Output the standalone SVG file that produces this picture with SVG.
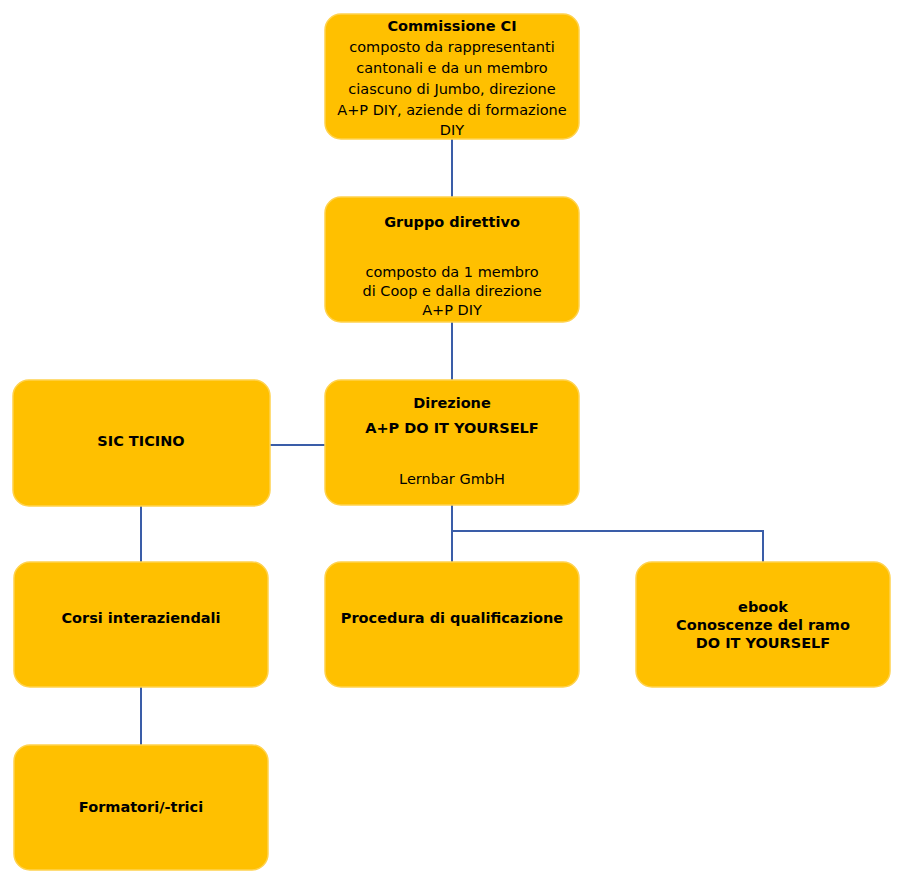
<svg xmlns="http://www.w3.org/2000/svg" width="904" height="884" viewBox="0 0 904 884">
<style>
.b{fill:#FFC000;stroke:#FFD24D;stroke-width:1.5}
text{font-family:"DejaVu Sans","Liberation Sans",sans-serif;font-size:14.5px;fill:#000;text-anchor:middle}
.t{font-weight:bold}
.c line,.c polyline{stroke:#3A5DA8;stroke-width:2;fill:none}
</style>
<rect width="904" height="884" fill="#fff"/>
<g class="c" id="connectors">
<line x1="452" y1="139" x2="452" y2="197"/>
<line x1="452" y1="322" x2="452" y2="380"/>
<line x1="270" y1="445" x2="325" y2="445"/>
<line x1="141" y1="506" x2="141" y2="562"/>
<line x1="141" y1="687" x2="141" y2="745"/>
<line x1="452" y1="505" x2="452" y2="562"/>
<polyline points="452,531 763,531 763,562"/>
</g>
<g id="commissione"><rect class="b" x="325" y="14" width="254" height="125" rx="16"/>
<text x="452" y="31" class="t">Commissione CI</text>
<text x="452" y="52">composto da rappresentanti</text>
<text x="452" y="73">cantonali e da un membro</text>
<text x="452" y="94">ciascuno di Jumbo, direzione</text>
<text x="452" y="115">A+P DIY, aziende di formazione</text>
<text x="452" y="135">DIY</text></g>
<g id="gruppo"><rect class="b" x="325" y="197" width="254" height="125" rx="16"/>
<text x="452" y="227" class="t">Gruppo direttivo</text>
<text x="452" y="277">composto da 1 membro</text>
<text x="452" y="296">di Coop e dalla direzione</text>
<text x="452" y="315">A+P DIY</text></g>
<g id="direzione"><rect class="b" x="325" y="380" width="254" height="125" rx="16"/>
<text x="452" y="408" class="t">Direzione</text>
<text x="452" y="433" class="t">A+P DO IT YOURSELF</text>
<text x="452" y="484">Lernbar GmbH</text></g>
<g id="sic"><rect class="b" x="13" y="380" width="257" height="126" rx="16"/>
<text x="141" y="446" class="t">SIC TICINO</text></g>
<g id="corsi"><rect class="b" x="14" y="562" width="254" height="125" rx="16"/>
<text x="141" y="623" class="t">Corsi interaziendali</text></g>
<g id="procedura"><rect class="b" x="325" y="562" width="254" height="125" rx="16"/>
<text x="452" y="623" class="t">Procedura di qualificazione</text></g>
<g id="ebook"><rect class="b" x="636" y="562" width="254" height="125" rx="16"/>
<text x="763" y="612" class="t">ebook</text>
<text x="763" y="630" class="t">Conoscenze del ramo</text>
<text x="763" y="648" class="t">DO IT YOURSELF</text></g>
<g id="formatori"><rect class="b" x="14" y="745" width="254" height="125" rx="16"/>
<text x="141" y="812" class="t">Formatori/-trici</text></g>
</svg>
